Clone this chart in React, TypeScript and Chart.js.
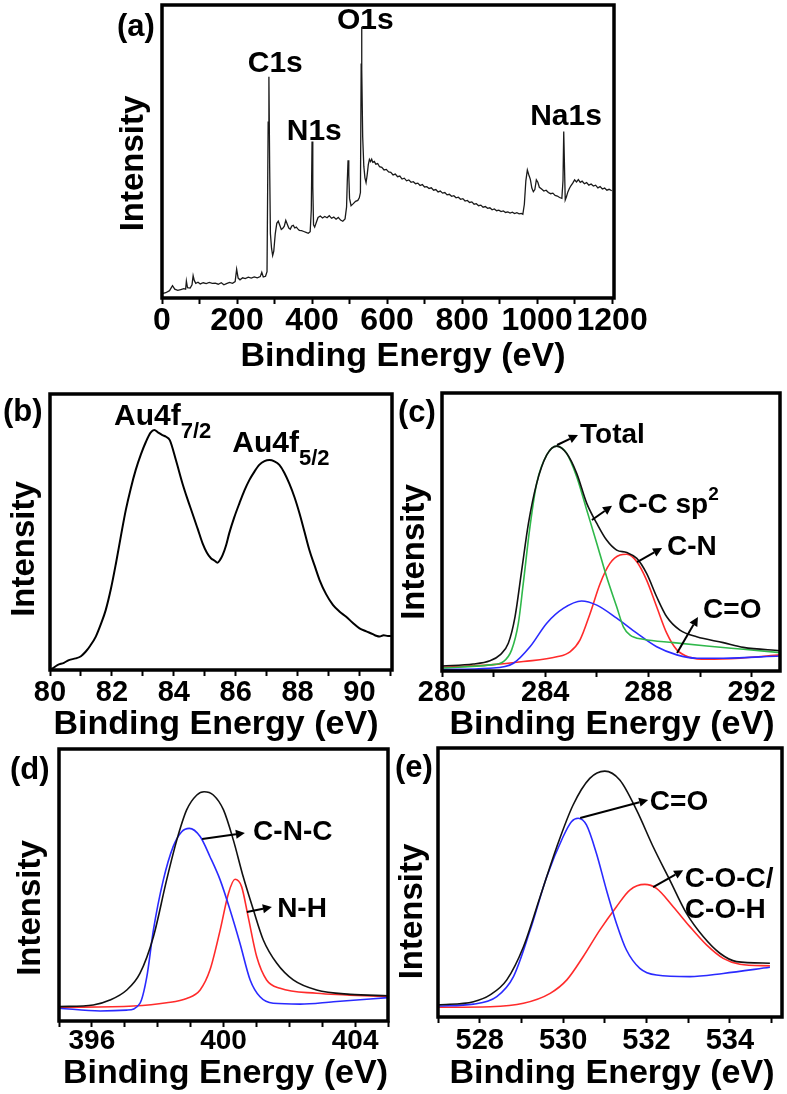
import React, { useEffect, useRef } from 'react';
import { Chart, registerables } from 'chart.js';

Chart.register(...registerables);

const W = 787;
const H = 1094;
const FONT = '"Liberation Sans", Arial, Helvetica, sans-serif';
const AXH = 60;

// ---------------- (a) survey spectrum ----------------
const surveyTicks = [0, 100, 200, 300, 400, 500, 600, 700, 800, 900, 1000, 1100, 1200];
const surveyLabels = [0, 200, 400, 600, 800, 1000, 1200];
const survey: number[][] = [
  [0, 1.5], [10, 1.8], [20, 2.5], [28, 4.2], [34, 3.0], [42, 2.6], [50, 2.9], [58, 3.2], [63, 3.0], [65, 5.8],
  [68, 3.5], [75, 3.4], [80, 4.5], [83, 7.6], [86, 6.0], [90, 5.0], [96, 5.4], [102, 4.8], [110, 5.2], [118, 4.9],
  [126, 5.3], [134, 5.0], [142, 5.1], [150, 4.7], [158, 5.2], [165, 4.5], [172, 4.9], [180, 5.3], [188, 5.0],
  [195, 5.6], [199, 9.8], [203, 6.8], [208, 6.2], [215, 6.9], [222, 6.6], [230, 7.1], [238, 6.8], [246, 7.2],
  [254, 6.9], [262, 7.3], [266, 8.8], [270, 7.2], [276, 7.4], [280, 9.0], [283, 60], [285, 75.5], [287, 45],
  [289, 22], [292, 17], [295, 14.5], [298, 16], [302, 22], [306, 25.5], [310, 26.2], [314, 24.8], [318, 23.4],
  [322, 23.8], [326, 24.5], [330, 26.5], [334, 25.2], [338, 23.9], [342, 23.5], [346, 24.6], [350, 24.8],
  [354, 23.9], [358, 24.2], [362, 23.6], [366, 23.1], [372, 23.0], [378, 22.7], [384, 22.4], [390, 22.1],
  [395, 22.6], [398, 30], [400, 53.4], [402, 38], [404, 25], [407, 24.2], [412, 26], [416, 27.5], [422, 28.0],
  [428, 27.3], [434, 27.8], [440, 27.4], [446, 28.1], [452, 27.2], [458, 27.6], [464, 26.9], [470, 27.5],
  [476, 26.6], [482, 26.2], [488, 27.0], [492, 31], [494, 40], [496, 47], [498, 42], [500, 34], [504, 31.5],
  [510, 32.2], [516, 33.0], [522, 33.3], [526, 34.2], [529, 36], [531, 80], [532, 92.6], [533, 78], [535, 55],
  [538, 45], [541, 41], [544, 39.4], [547, 42], [550, 45.5], [553, 47.3], [556, 46.6], [559, 47.4], [562, 46.3],
  [566, 46.6], [570, 45.7], [575, 45.9], [580, 44.8], [586, 44.6], [592, 43.7], [598, 43.9], [604, 43.0],
  [610, 42.9], [616, 42.0], [622, 42.3], [628, 41.4], [634, 41.6], [640, 40.6], [646, 40.9], [652, 40.0],
  [658, 40.3], [664, 39.5], [670, 39.7], [676, 39.0], [682, 39.2], [688, 38.4], [694, 38.7], [700, 37.9],
  [706, 38.0], [712, 37.4], [718, 37.6], [724, 36.8], [730, 37.0], [736, 36.2], [742, 36.5], [748, 35.8],
  [754, 36.0], [760, 35.2], [766, 35.4], [772, 34.7], [778, 34.9], [784, 34.2], [790, 34.4], [796, 33.7],
  [802, 33.9], [808, 33.1], [814, 33.3], [820, 32.6], [826, 32.8], [832, 32.0], [838, 32.2], [844, 31.5],
  [850, 31.7], [856, 31.0], [862, 31.2], [868, 30.6], [874, 30.8], [880, 30.1], [886, 30.4], [892, 29.8],
  [898, 30.0], [904, 29.5], [910, 29.7], [916, 29.2], [922, 29.4], [928, 29.0], [934, 29.3], [940, 28.8],
  [946, 29.1], [952, 28.7], [958, 28.9], [962, 28.6], [966, 32], [970, 40], [974, 43.7], [978, 42], [982, 40.5],
  [986, 37.5], [990, 36.3], [994, 37], [998, 40.3], [1002, 39.5], [1006, 37.8], [1012, 37.2], [1018, 36.5],
  [1024, 36.8], [1030, 36.0], [1036, 35.6], [1042, 35.8], [1048, 35.0], [1054, 34.8], [1060, 34.3], [1066, 34.0],
  [1069, 40], [1071, 56.8], [1073, 45], [1075, 33.5], [1078, 34.5], [1082, 36.2], [1086, 37.4], [1090, 38.3],
  [1095, 39.2], [1100, 40.3], [1105, 39.6], [1110, 40.4], [1115, 39.5], [1120, 39.9], [1126, 39.0], [1132, 39.4],
  [1138, 38.5], [1144, 38.9], [1150, 38.2], [1156, 38.5], [1162, 37.6], [1168, 38.0], [1174, 37.2], [1180, 37.5],
  [1186, 36.8], [1192, 37.1], [1199, 36.6],
];

// ---------------- (b) Au 4f ----------------
const auTicks = [80, 81, 82, 83, 84, 85, 86, 87, 88, 89, 90, 91];
const auLabels = [80, 82, 84, 86, 88, 90];
const au4f: number[][] = [
  [80.0, 0.3], [80.08, 0.6], [80.24, 1.8], [80.45, 2.6], [80.61, 3.6], [80.83, 4.2], [81.0, 5.0], [81.15, 6.6],
  [81.3, 8.8], [81.48, 12.1], [81.64, 16.5], [81.8, 21.7], [81.97, 29.5], [82.13, 38.6], [82.29, 48.5],
  [82.45, 58], [82.61, 65.8], [82.77, 72.5], [82.94, 78.2], [83.1, 82.7], [83.25, 86.0], [83.37, 87],
  [83.5, 86.0], [83.63, 85.1], [83.75, 84.5], [83.87, 83.3], [84.07, 76], [84.28, 67.6], [84.44, 62.0],
  [84.6, 56.8], [84.77, 51.2], [84.93, 45.9], [85.07, 42.5], [85.2, 40.5], [85.32, 39.6], [85.41, 38.9],
  [85.5, 40.0], [85.58, 41.7], [85.69, 45.2], [85.79, 49.5], [85.95, 55.2], [86.12, 60.4], [86.28, 65.0],
  [86.44, 68.8], [86.6, 71.8], [86.76, 74.3], [86.93, 75.7], [87.09, 76.1], [87.25, 75.6], [87.41, 74.3],
  [87.57, 71.5], [87.73, 67.6], [87.9, 62.6], [88.06, 56.8], [88.22, 50.2], [88.38, 43.5], [88.55, 37.8],
  [88.71, 32.6], [88.92, 27.5], [89.14, 23.6], [89.35, 21.2], [89.57, 19.3], [89.78, 17.1], [90.0, 15.1],
  [90.22, 14.0], [90.43, 13.0], [90.54, 12.4], [90.65, 12.1], [90.78, 12.6], [90.92, 12.3], [91.05, 12.4],
];

// ---------------- (c) C 1s ----------------
const c1sTicks = [280, 282, 284, 286, 288, 290, 292];
const c1sLabels = [280, 284, 288, 292];
const c1sTotal: number[][] = [
  [280, 1.8], [281.21, 2.5], [281.86, 3.7], [282.25, 5.8], [282.57, 10], [282.83, 19.5], [283.09, 36.3],
  [283.35, 53.1], [283.67, 67.5], [284.06, 77.7], [284.45, 80.9], [284.83, 78.3], [285.22, 71.1], [285.61, 60.3],
  [286.0, 53.1], [286.38, 47.1], [286.77, 43.5], [287.16, 42.6], [287.55, 40.5], [287.93, 35.1], [288.32, 26.7],
  [288.71, 19.5], [289.22, 14.7], [289.87, 12.3], [290.9, 10.2], [291.68, 8.5], [293.1, 7.3],
];
const c1sCC: number[][] = [
  [280, 1.1], [281.86, 2.2], [282.38, 3.4], [282.7, 7.6], [282.96, 17.2], [283.15, 31.5], [283.41, 51.9],
  [283.67, 67.5], [284.06, 77.7], [284.45, 80.9], [284.83, 78.3], [285.22, 69.9], [285.61, 57.9], [286.0, 45.9],
  [286.38, 33.9], [286.77, 23.1], [287.03, 15.9], [287.29, 12.9], [287.8, 11.4], [288.97, 10.2], [290.26, 9.0],
  [291.68, 7.8], [293.1, 6.6],
];
const c1sCO: number[][] = [
  [280, 0.6], [281.86, 1.0], [282.77, 2.8], [283.41, 8.7], [284.06, 17.2], [284.7, 22.5], [285.41, 25.2],
  [286.0, 23.7], [286.77, 19.0], [287.55, 13.6], [288.32, 8.7], [289.1, 5.8], [289.87, 4.6], [290.9, 4.6],
  [293.1, 5.4],
];
const c1sCN: number[][] = [
  [280, 1.3], [281.86, 2.2], [283.15, 3.4], [284.45, 5.1], [284.96, 6.9], [285.35, 11.2], [285.74, 20.7],
  [286.13, 31.5], [286.51, 38.7], [286.9, 41.7], [287.16, 42.0], [287.55, 39.3], [287.93, 32.7], [288.32, 23.1],
  [288.71, 13.6], [289.1, 7.6], [289.61, 4.9], [290.26, 4.2], [291.55, 4.6], [293.1, 5.8],
];

// ---------------- (d) N 1s ----------------
const n1sTicks = [395, 396, 397, 398, 399, 400, 401, 402, 403, 404, 405];
const n1sLabels = [396, 400, 404];
const n1sTotal: number[][] = [
  [395.0, 5.3], [396.04, 5.9], [396.55, 7.7], [397.06, 11.4], [397.46, 17.5], [397.87, 31], [398.27, 51.8],
  [398.58, 66.5], [398.88, 77.6], [399.19, 83.1], [399.41, 84.3], [399.69, 83.1], [400.0, 77.6], [400.3, 66.5],
  [400.6, 53], [400.91, 40.8], [401.21, 29.8], [401.62, 21.2], [402.12, 15.1], [402.83, 11.4], [403.85, 9.8],
  [405.0, 9.3],
];
const n1sCNC: number[][] = [
  [395.0, 4.7], [396.25, 3.7], [397.06, 4.0], [397.46, 6.5], [397.67, 16.3], [397.87, 33.5], [398.17, 51.8],
  [398.47, 64.1], [398.73, 69.6], [398.96, 70.8], [399.29, 67.8], [399.59, 60.4], [399.9, 51.8], [400.2, 40.8],
  [400.5, 28.6], [400.81, 15.1], [401.11, 8.9], [401.51, 6.5], [402.33, 6.2], [403.34, 7.1], [405.0, 8.6],
];
const n1sNH: number[][] = [
  [395.0, 5.0], [397.26, 5.5], [398.27, 6.7], [398.88, 8.3], [399.29, 11.4], [399.59, 18.8], [399.9, 33.5],
  [400.15, 46.9], [400.35, 52.1], [400.55, 49.4], [400.75, 38.3], [401.01, 23.6], [401.31, 15.1], [401.72, 12.0],
  [402.83, 10.2], [405.0, 9.0],
];

// ---------------- (e) O 1s ----------------
const o1sTicks = [527, 528, 529, 530, 531, 532, 533, 534, 535];
const o1sLabels = [528, 530, 532, 534];
const o1sTotal: number[][] = [
  [527.0, 4.5], [527.85, 5.7], [528.25, 8.2], [528.65, 13.8], [529.05, 26.1], [529.45, 44.7], [529.85, 63.3],
  [530.24, 78.8], [530.64, 88.7], [531.0, 91.4], [531.36, 88.1], [531.76, 77.0], [532.16, 63.3], [532.56, 50.9],
  [532.96, 38.5], [533.36, 29.9], [533.76, 23.7], [534.16, 20.6], [534.96, 20.0],
];
const o1sCO: number[][] = [
  [527.0, 4.1], [527.85, 4.8], [528.41, 7.6], [528.81, 15.0], [529.21, 32.3], [529.61, 52.2], [530.0, 67.0],
  [530.2, 72.6], [530.36, 73.9], [530.56, 71.4], [530.8, 60.8], [531.04, 47.2], [531.28, 34.8], [531.52, 24.9],
  [531.84, 18.1], [532.24, 15.6], [533.04, 15.0], [533.84, 16.2], [534.96, 18.5],
];
const o1sCOC: number[][] = [
  [527.0, 3.6], [528.25, 3.8], [529.05, 5.1], [529.69, 8.8], [530.09, 13.8], [530.48, 22.4], [530.88, 32.3],
  [531.28, 41.0], [531.6, 47.2], [531.96, 49.3], [532.24, 47.8], [532.64, 41.0], [533.04, 33.6], [533.44, 26.8],
  [533.84, 21.8], [534.24, 19.6], [534.96, 19.0],
];

// ---------------- panel definitions ----------------
type Part = [string, number, number]; // text, font size, baseline shift
interface Note { parts: Part[]; x: number; y: number; align: 'left' | 'center' }
interface Series { pts: number[][]; color: string; width: number; smooth: boolean }
interface Panel {
  rect: [number, number, number, number];
  xMin: number; xMax: number;
  ticks: number[]; labels: number[];
  tickFont: number; tickPad: number;
  series: Series[];
  notes: Note[];
  arrows: number[][][];
  tag: string; tagOff: [number, number];
  xTitleOff: [number, number];
  yTitleOff: [number, number];
}

const BLACK = '#111111';
const GREEN = '#2fb84a';
const BLUE = '#2a2aff';
const RED = '#ff2b2b';

const panels: Panel[] = [
  {
    rect: [162, 5, 614, 298], xMin: 0, xMax: 1205,
    ticks: surveyTicks, labels: surveyLabels, tickFont: 32, tickPad: 1.5,
    series: [{ pts: survey, color: '#1a1a1a', width: 1.3, smooth: false }],
    notes: [
      { parts: [['C1s', 30, 0]], x: 302, y: 77.1, align: 'center' },
      { parts: [['N1s', 30, 0]], x: 406, y: 54.0, align: 'center' },
      { parts: [['O1s', 30, 0]], x: 542, y: 91.8, align: 'center' },
      { parts: [['Na1s', 30, 0]], x: 1077, y: 59.0, align: 'center' },
    ],
    arrows: [],
    tag: '(a)', tagOff: [-45, 31], xTitleOff: [15, 68], yTitleOff: [-28, 12],
  },
  {
    rect: [50, 394, 392, 670], xMin: 80, xMax: 91.05,
    ticks: auTicks, labels: auLabels, tickFont: 29, tickPad: 2,
    series: [{ pts: au4f, color: '#000', width: 2, smooth: true }],
    notes: [
      { parts: [['Au4f', 30, 0], ['7/2', 22, 13]], x: 82.07, y: 88.8, align: 'left' },
      { parts: [['Au4f', 30, 0], ['5/2', 22, 13]], x: 85.89, y: 79, align: 'left' },
    ],
    arrows: [],
    tag: '(b)', tagOff: [-47, 27], xTitleOff: [-5, 64], yTitleOff: [-25, 17],
  },
  {
    rect: [442, 393, 780, 671], xMin: 280, xMax: 293.1,
    ticks: c1sTicks, labels: c1sLabels, tickFont: 29, tickPad: 1,
    series: [
      { pts: c1sTotal, color: BLACK, width: 1.6, smooth: true },
      { pts: c1sCC, color: GREEN, width: 1.6, smooth: true },
      { pts: c1sCO, color: BLUE, width: 1.6, smooth: true },
      { pts: c1sCN, color: RED, width: 1.6, smooth: true },
    ],
    notes: [
      { parts: [['Total', 28, 0]], x: 285.35, y: 82.0, align: 'left' },
      { parts: [['C-C sp', 28, 0], ['2', 19, -13]], x: 286.82, y: 56.8, align: 'left' },
      { parts: [['C-N', 28, 0]], x: 288.72, y: 41.7, align: 'left' },
      { parts: [['C=O', 28, 0]], x: 290.12, y: 19.1, align: 'left' },
    ],
    arrows: [
      [[284.46, 81.3], [285.27, 84.9]],
      [[285.81, 54.3], [286.59, 59.4]],
      [[287.56, 39.2], [288.53, 44.2]],
      [[289.11, 6.5], [289.92, 19.4]],
    ],
    tag: '(c)', tagOff: [-44, 29], xTitleOff: [1, 63], yTitleOff: [-27, 20],
  },
  {
    rect: [59, 749, 388, 1021], xMin: 395, xMax: 405,
    ticks: n1sTicks, labels: n1sLabels, tickFont: 28, tickPad: 0,
    series: [
      { pts: n1sTotal, color: BLACK, width: 1.6, smooth: true },
      { pts: n1sCNC, color: BLUE, width: 1.6, smooth: true },
      { pts: n1sNH, color: RED, width: 1.6, smooth: true },
    ],
    notes: [
      { parts: [['C-N-C', 28, 0]], x: 400.9, y: 66.5, align: 'left' },
      { parts: [['N-H', 28, 0]], x: 401.63, y: 38.2, align: 'left' },
    ],
    arrows: [
      [[399.35, 66.9], [400.65, 69.1]],
      [[400.71, 40.1], [401.47, 41.9]],
    ],
    tag: '(d)', tagOff: [-49, 30], xTitleOff: [2, 62], yTitleOff: [-28, 23],
  },
  {
    rect: [438, 748, 782, 1017], xMin: 527, xMax: 535.25,
    ticks: o1sTicks, labels: o1sLabels, tickFont: 29, tickPad: 3.5,
    series: [
      { pts: o1sTotal, color: BLACK, width: 1.6, smooth: true },
      { pts: o1sCO, color: BLUE, width: 1.6, smooth: true },
      { pts: o1sCOC, color: RED, width: 1.6, smooth: true },
    ],
    notes: [
      { parts: [['C=O', 28, 0]], x: 532.08, y: 77.0, align: 'left' },
      { parts: [['C-O-C/', 28, 0]], x: 532.92, y: 48.3, align: 'left' },
      { parts: [['C-O-H', 28, 0]], x: 532.92, y: 36.8, align: 'left' },
    ],
    arrows: [
      [[530.41, 74.0], [532.04, 80.7]],
      [[532.16, 48.3], [532.88, 54.6]],
    ],
    tag: '(e)', tagOff: [-43, 29], xTitleOff: [2, 66], yTitleOff: [-25, 29],
  },
];

function boldFont(size: number) {
  return `bold ${size}px ${FONT}`;
}

function makeDecor(p: Panel) {
  return {
    id: 'panelDecor',
    afterDraw(chart: any) {
      const { ctx, chartArea: a, scales } = chart;
      const xs = scales.x;
      const ys = scales.y;
      ctx.save();
      // frame
      ctx.strokeStyle = '#000';
      ctx.lineWidth = 3.5;
      ctx.strokeRect(a.left, a.top, a.right - a.left, a.bottom - a.top);

      ctx.fillStyle = '#000';
      // notes
      for (const n of p.notes) {
        let total = 0;
        for (const [t, s] of n.parts) {
          ctx.font = boldFont(s);
          total += ctx.measureText(t).width;
        }
        let cx = xs.getPixelForValue(n.x);
        const cy = ys.getPixelForValue(n.y);
        if (n.align === 'center') cx -= total / 2;
        ctx.textAlign = 'left';
        ctx.textBaseline = 'alphabetic';
        for (const [t, s, dy] of n.parts) {
          ctx.font = boldFont(s);
          ctx.fillText(t, cx, cy + dy);
          cx += ctx.measureText(t).width;
        }
      }
      // arrows
      ctx.strokeStyle = '#000';
      ctx.lineWidth = 2;
      for (const [[x1, y1], [x2, y2]] of p.arrows) {
        const px1 = xs.getPixelForValue(x1), py1 = ys.getPixelForValue(y1);
        const px2 = xs.getPixelForValue(x2), py2 = ys.getPixelForValue(y2);
        const ang = Math.atan2(py2 - py1, px2 - px1);
        const hl = 9, hw = 4.5;
        const bx = px2 - hl * Math.cos(ang), by = py2 - hl * Math.sin(ang);
        ctx.beginPath();
        ctx.moveTo(px1, py1);
        ctx.lineTo(bx, by);
        ctx.stroke();
        ctx.beginPath();
        ctx.moveTo(px2, py2);
        ctx.lineTo(bx + hw * Math.sin(ang), by - hw * Math.cos(ang));
        ctx.lineTo(bx - hw * Math.sin(ang), by + hw * Math.cos(ang));
        ctx.closePath();
        ctx.fill();
      }
      // panel tag
      ctx.font = boldFont(31);
      ctx.textAlign = 'left';
      ctx.textBaseline = 'alphabetic';
      ctx.fillText(p.tag, a.left + p.tagOff[0], a.top + p.tagOff[1]);
      // x title
      ctx.font = boldFont(34);
      ctx.textAlign = 'center';
      ctx.fillText('Binding Energy (eV)', (a.left + a.right) / 2 + p.xTitleOff[0], a.bottom + p.xTitleOff[1]);
      // y title
      ctx.translate(a.left + p.yTitleOff[0], (a.top + a.bottom) / 2 + p.yTitleOff[1]);
      ctx.rotate(-Math.PI / 2);
      ctx.textBaseline = 'middle';
      ctx.font = boldFont(33);
      ctx.fillText('Intensity', 0, 0);
      ctx.restore();
    },
  };
}

function buildConfig(p: Panel): any {
  const [l, t, r, b] = p.rect;
  return {
    type: 'line',
    data: {
      datasets: p.series.map((s) => ({
        data: s.pts.map(([x, y]) => ({ x, y })),
        borderColor: s.color,
        borderWidth: s.width,
        pointRadius: 0,
        fill: false,
        tension: s.smooth ? 0.4 : 0,
        cubicInterpolationMode: s.smooth ? 'monotone' : 'default',
      })),
    },
    options: {
      responsive: false,
      animation: false,
      events: [],
      layout: { padding: { left: l, top: t, right: W - r, bottom: H - b - AXH } },
      plugins: { legend: { display: false }, tooltip: { enabled: false } },
      scales: {
        x: {
          type: 'linear',
          position: 'bottom',
          min: p.xMin,
          max: p.xMax,
          afterBuildTicks: (s: any) => {
            s.ticks = p.ticks.map((v) => ({ value: v }));
          },
          afterFit: (s: any) => {
            s.height = AXH;
            s.paddingLeft = 0;
            s.paddingRight = 0;
          },
          ticks: {
            autoSkip: false,
            maxRotation: 0,
            minRotation: 0,
            includeBounds: false,
            padding: p.tickPad,
            color: '#000',
            font: { family: FONT, size: p.tickFont, weight: 'bold', lineHeight: 1 },
            callback: (v: number) => (p.labels.includes(v) ? String(v) : ''),
          },
          grid: {
            drawOnChartArea: false,
            drawTicks: true,
            tickLength: 6,
            tickWidth: 2,
            tickColor: '#000',
            color: '#000',
          },
          border: { display: false },
        },
        y: { type: 'linear', display: false, min: 0, max: 100 },
      },
    },
    plugins: [makeDecor(p)],
  };
}

function PanelChart({ p }: { p: Panel }) {
  const ref = useRef<HTMLCanvasElement>(null);
  useEffect(() => {
    const chart = new Chart(ref.current as HTMLCanvasElement, buildConfig(p));
    return () => chart.destroy();
  }, [p]);
  return (
    <canvas
      ref={ref}
      width={W}
      height={H}
      style={{ position: 'absolute', left: 0, top: 0, width: W, height: H }}
    />
  );
}

export default function App() {
  return (
    <div
      style={{
        position: 'absolute',
        left: 0,
        top: 0,
        width: W,
        height: H,
        background: '#fff',
        overflow: 'hidden',
      }}
    >
      {panels.map((p, i) => (
        <PanelChart key={i} p={p} />
      ))}
    </div>
  );
}
